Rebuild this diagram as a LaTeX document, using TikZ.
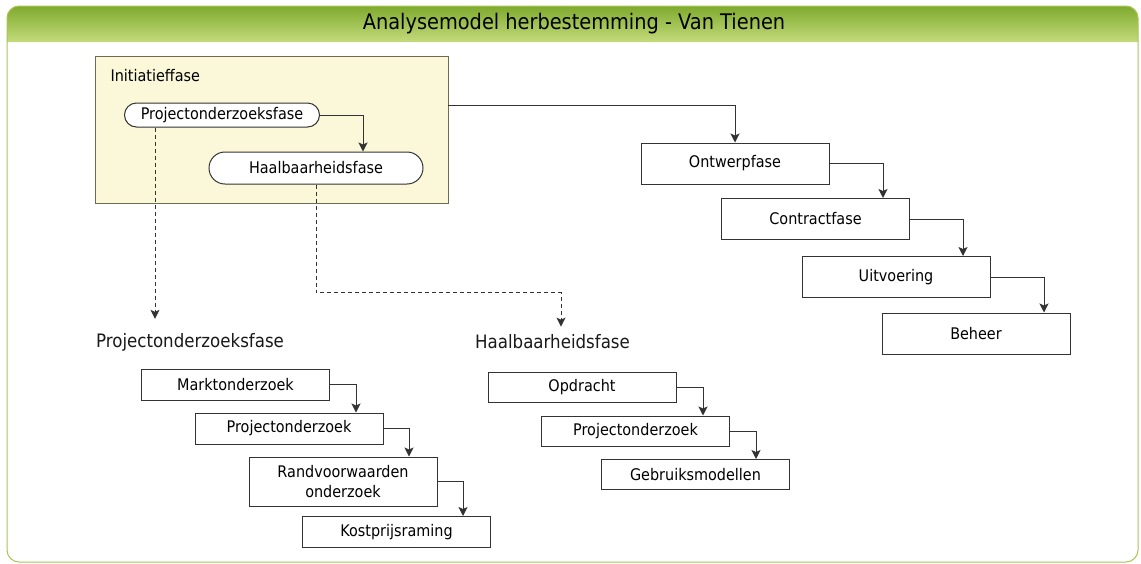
\documentclass[tikz,border=0pt]{standalone}
\usepackage{fontspec}
\setmainfont[FakeStretch=0.9]{DejaVu Sans}
\usetikzlibrary{arrows.meta}
\tikzset{>={Stealth[length=9pt,width=9pt,inset=2pt]}}

\definecolor{barTop}{HTML}{7FAA2E}
\definecolor{barBottom}{HTML}{C4DB7C}
\definecolor{frameGreen}{HTML}{A6C655}
\definecolor{initFill}{HTML}{FAF8D8}
\definecolor{initLine}{HTML}{6E6C55}
\definecolor{lineGray}{HTML}{333333}

\tikzset{
	box/.style={draw=lineGray, fill=white, line width=1pt, minimum width=188pt, minimum height=31pt,
		inner sep=2pt, align=center, font=\fontsize{16}{20}\selectfont},
	pill/.style={box, rounded corners=#1},
	heading/.style={inner sep=2pt, font=\fontsize{18.5}{22}\selectfont, text=black!90},
	link/.style={draw=lineGray, line width=1pt, ->},
	dlink/.style={link, dash pattern=on 4pt off 3pt}
}

\begin{document}
\begin{tikzpicture}[x=1pt, y=-1pt]
	%\draw[help lines, step=50] (0,0) grid (1141,563);
	\useasboundingbox (0,0) rectangle (1141,563);
	% frame and title bar
	\shade[top color=barTop, bottom color=barBottom] (7,42) {[rounded corners=12pt] -- (7,6) -- (1138,6)} -- (1138,42) -- cycle;
	\draw[frameGreen, line width=1pt, rounded corners=12pt] (7,6) rectangle (1138,562);
	\node (title) at (574,24) {\fontsize{21.5}{24}\selectfont Analysemodel herbestemming - Van Tienen};

	% initiatieffase
	\node[draw=initLine, fill=initFill, line width=0.8pt, minimum width=353pt, minimum height=147pt] (init) at (271.5,129.5) {};
	\node[anchor=west, font=\fontsize{16}{18}\selectfont] (initlabel) at (107,76) {Initiatieffase};
	\node[pill=12pt, minimum width=195pt, minimum height=24pt] (pproj) at (222,115) {Projectonderzoeksfase};
	\node[pill=16pt, minimum width=214pt, minimum height=32pt] (phaal) at (316,168) {Haalbaarheidsfase};
	\draw[link] (pproj.east) -| ([xshift=47pt]phaal.north);

	% hoofdfasen
	\node[box, minimum height=41pt] (ontw) at (735,163.5) {Ontwerpfase};
	\node[box, minimum height=41pt] (contr) at (815.5,219) {Contractfase};
	\node[box, minimum height=41pt] (uitv) at (896,277) {Uitvoering};
	\node[box, minimum height=41pt] (beheer) at (976,333.5) {Beheer};
	\draw[link] ([yshift=24.5pt]init.east) -| (ontw.north);
	\draw[link] (ontw.east) -| ([xshift=67.5pt]contr.north);
	\draw[link] (contr.east) -| ([xshift=67pt]uitv.north);
	\draw[link] (uitv.east) -| ([xshift=68pt]beheer.north);

	% projectonderzoeksfase
	\node[heading] (headP) at (190,342) {Projectonderzoeksfase};
	\node[box] (markt) at (235.5,384.5) {Marktonderzoek};
	\node[box] (proj) at (289,428.5) {Projectonderzoek};
	\node[box, minimum height=49pt] (rand) at (343,481.5) {Randvoorwaarden\\onderzoek};
	\node[box] (kost) at (396.5,532) {Kostprijsraming};
	\draw[link] (markt.east) -| ([xshift=67pt]proj.north);
	\draw[link] (proj.east) -| ([xshift=66pt]rand.north);
	\draw[link] (rand.east) -| ([xshift=66.5pt]kost.north);
	\draw[dlink] ([xshift=-67pt]pproj.south) -- ([xshift=-35pt,yshift=12pt]headP.north);

	% haalbaarheidsfase
	\node[heading] (headH) at (552.5,342) {Haalbaarheidsfase};
	\node[box, minimum height=30pt] (opdr) at (582,387) {Opdracht};
	\node[box, minimum height=30pt] (proj2) at (635.5,431) {Projectonderzoek};
	\node[box, minimum height=30pt] (gebr) at (695.5,474.5) {Gebruiksmodellen};
	\draw[link] (opdr.east) -| ([xshift=67.5pt]proj2.north);
	\draw[link] (proj2.east) -| ([xshift=60.5pt]gebr.north);
	\draw[dlink] (phaal.south) -- ++(0,108) -| ([xshift=8.5pt,yshift=6pt]headH.north);
\end{tikzpicture}
\end{document}
